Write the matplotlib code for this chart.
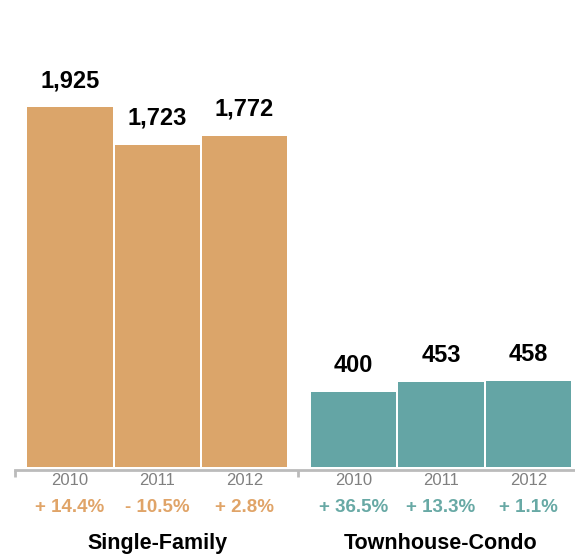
import matplotlib.pyplot as plt

plt.rcParams['font.family'] = ['Liberation Sans', 'DejaVu Sans']

years = ['2010', '2011', '2012']
groups = ['Single-Family', 'Townhouse-Condo']
single_family = [1925, 1723, 1772]
townhouse_condo = [400, 453, 458]
sf_change = ['+ 14.4%', '- 10.5%', '+ 2.8%']
tc_change = ['+ 36.5%', '+ 13.3%', '+ 1.1%']

orange = '#dba56a'
teal = '#64a5a5'
orange_txt = '#e0a468'
teal_txt = '#68a9a5'

fig = plt.figure(figsize=(5.75, 5.56), dpi=100)
ax = fig.add_axes([0, 89 / 556, 1, 0.9 - 89 / 556])

gap = 3.25
x_sf = [0, 1, 2]
x_tc = [x + gap for x in x_sf]

ax.bar(x_sf, single_family, width=0.98, color=orange)
ax.bar(x_tc, townhouse_condo, width=0.98, color=teal)

ax.set_xlim(-0.802, 5.785)
ax.set_ylim(0, 2200)

# thin grey baseline with end ticks
for s in ['top', 'right', 'left']:
    ax.spines[s].set_visible(False)
ax.spines['bottom'].set_color('#bbbbbb')
ax.spines['bottom'].set_linewidth(2)
ax.spines['bottom'].set_position(('outward', 2))
ax.spines['bottom'].set_bounds(-0.63, 5.785)
ax.set_xticks([-0.63, 2.61])
ax.set_xticklabels([])
ax.tick_params(axis='x', length=5, width=2, color='#bbbbbb')
ax.set_yticks([])

trans = ax.get_xaxis_transform()
for xs, vals, changes, col in [(x_sf, single_family, sf_change, orange_txt),
                               (x_tc, townhouse_condo, tc_change, teal_txt)]:
    for x, v, yr, ch in zip(xs, vals, years, changes):
        ax.annotate(f'{v:,}', xy=(x, v), xytext=(0, 19), textcoords='offset points',
                    ha='center', va='center', fontsize=17, fontweight='bold')
        ax.annotate(yr, xy=(x, 0), xycoords=trans, xytext=(0, -10),
                    textcoords='offset points', ha='center', va='center',
                    fontsize=12, color='#808080')
        ax.annotate(ch, xy=(x, 0), xycoords=trans, xytext=(0, -29),
                    textcoords='offset points', ha='center', va='center',
                    fontsize=13.5, fontweight='bold', color=col)

for xs, name in zip([x_sf, x_tc], groups):
    ax.annotate(name, xy=(xs[1], 0), xycoords=trans, xytext=(0, -55),
                textcoords='offset points', ha='center', va='center',
                fontsize=15.5, fontweight='bold')

fig.savefig('out.png', dpi=100)
